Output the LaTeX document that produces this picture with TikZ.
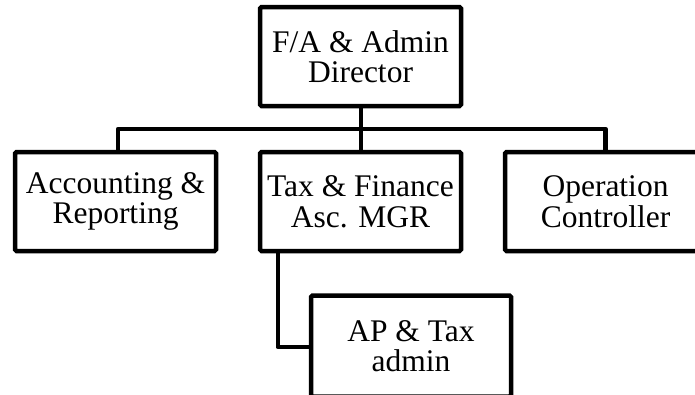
\documentclass[tikz,border=0pt]{standalone}
\usepackage{fontspec}
\setmainfont{Liberation Serif}
\begin{document}
\begin{tikzpicture}[x=1pt,y=-1pt,
  orgbox/.style={draw=black, line width=4.5pt, rounded corners=1.5pt, fill=white,
    minimum width=201pt, minimum height=99pt, inner sep=0pt, align=center,
    font=\fontsize{31.5}{30.5}\selectfont},
  link/.style={draw=black, line width=4.5pt, line join=round}]
\useasboundingbox (0,0) rectangle (695,394);
\node[orgbox] (top) at (360.5,56.5) {F/A \& Admin\\Director};
\node[orgbox] (acc) at (115.5,201.5) {Accounting \&\\Reporting};
\node[orgbox] (tax) at (360.5,201.5) {Tax \& Finance\\Asc. MGR};
\node[orgbox] (ops) at (605.5,201.5) {Operation\\Controller};
\node[orgbox, minimum width=200pt, minimum height=101pt] (ap) at (411,346) {AP \& Tax\\admin};
\coordinate (bus) at (361,129);
\draw[link] ([xshift=0.5pt]top.south) -- ([xshift=0.5pt]tax.north);
\draw[link] ([xshift=2.5pt]acc.north) |- (bus) -| (ops.north);
\draw[link] ([xshift=20pt]tax.south west) |- ([yshift=-1pt]ap.west);
\end{tikzpicture}
\end{document}
